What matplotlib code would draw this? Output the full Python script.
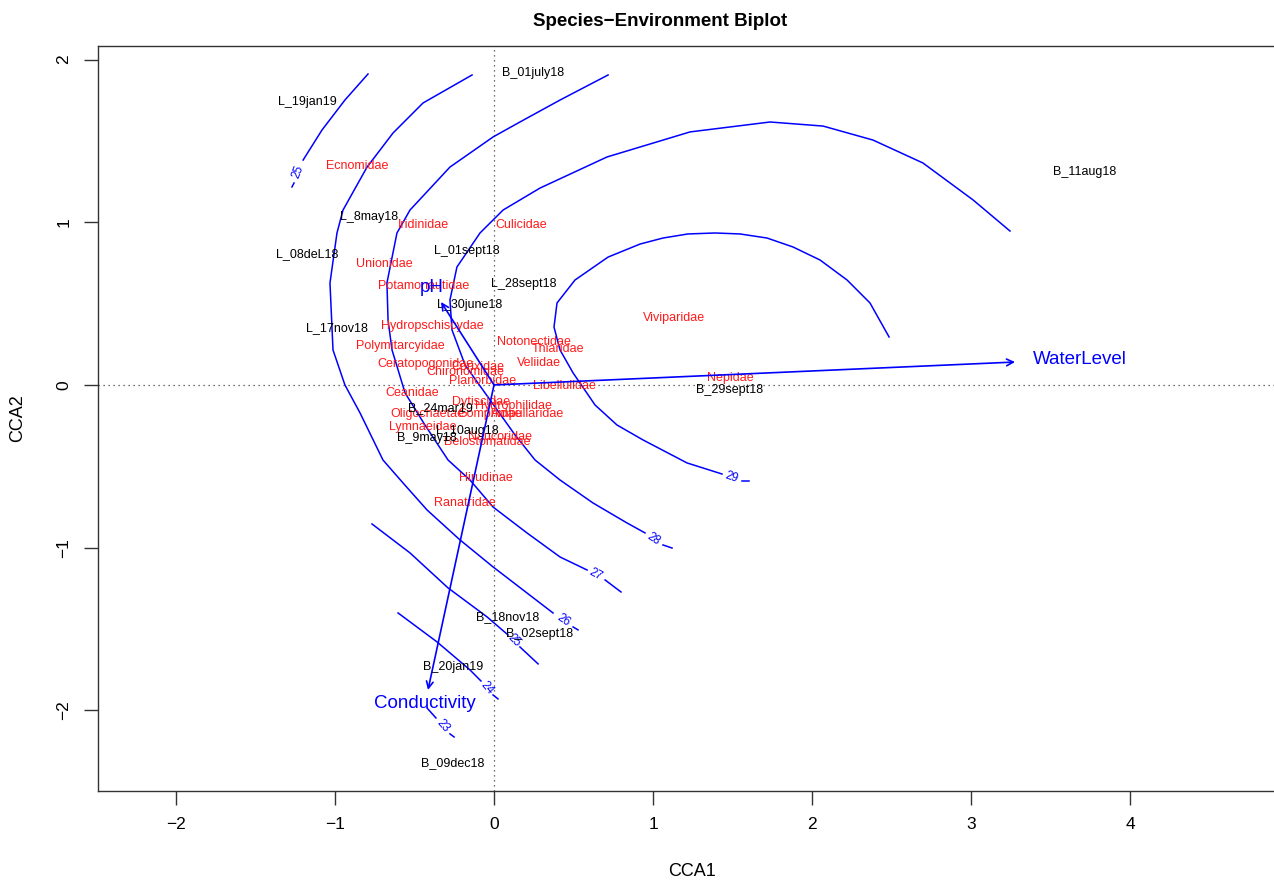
import math
import matplotlib
matplotlib.use("Agg")
import matplotlib.pyplot as plt

plt.rcParams["font.family"] = ["Liberation Sans", "DejaVu Sans"]

# site scores (CCA1, CCA2)
site_names = ["L_19jan19", "B_01july18", "B_11aug18", "L_8may18", "L_08deL18",
              "L_01sept18", "L_28sept18", "L_30june18", "L_17nov18", "B_24mar19",
              "L_10aug18", "B_9may18", "B_29sept18", "B_18nov18", "B_02sept18",
              "B_20jan19", "B_09dec18"]
site_x = [-1.175, 0.245, 3.715, -0.786, -1.175, -0.170, 0.189, -0.151, -0.987, -0.339,
          -0.170, -0.421, 1.483, 0.088, 0.289, -0.258, -0.258]
site_y = [1.739, 1.917, 1.309, 1.032, 0.805, 0.823, 0.621, 0.492, 0.350, -0.141,
          -0.283, -0.326, -0.031, -1.426, -1.530, -1.733, -2.323]

# species scores
species_names = ["Ecnomidae", "Iridinidae", "Culicidae", "Unionidae", "Potamonautidae",
                 "Hydropschiscydae", "Polymitarcyidae", "Notonectidae", "Thiaridae",
                 "Ceratopogonidae", "Corixidae", "Chironomidae", "Planorbidae", "Veliidae",
                 "Libellulidae", "Viviparidae", "Nepidae", "Ceanidae", "Dytiscidae",
                 "Hydrophilidae", "Oligochaetae", "Gomphidae", "Ampullaridae", "Lymnaeidae",
                 "Naucoridae", "Belostomatidae", "Hirudinae", "Ranatridae"]
species_x = [-0.861, -0.446, 0.170, -0.691, -0.440, -0.390, -0.591, 0.251, 0.402,
             -0.434, -0.100, -0.182, -0.075, 0.283, 0.440, 1.131, 1.483, -0.515, -0.080,
             0.120, -0.421, -0.025, 0.214, -0.446, 0.040, -0.040, -0.050, -0.182]
species_y = [1.346, 0.983, 0.983, 0.743, 0.608, 0.363, 0.240, 0.264, 0.221,
             0.129, 0.110, 0.080, 0.025, 0.135, -0.006, 0.412, 0.043, -0.049, -0.105,
             -0.130, -0.180, -0.180, -0.180, -0.258, -0.320, -0.350, -0.571, -0.725]

# environmental vectors
env_names = ["WaterLevel", "pH", "Conductivity"]
env_x = [3.275, -0.333, -0.415]
env_y = [0.141, 0.510, -1.874]
env_label_x = [3.683, -0.39, -0.434]
env_label_y = [0.154, 0.602, -1.96]

# fitted surface contours; last two points of each are the tail after the label
contour_levels = [25, 26, 27, 28, 29, 25, 24, 23]
contour_x = [
    [-0.792, -0.937, -1.081, -1.200, -1.257, -1.270],
    [-0.138, -0.446, -0.635, -0.798, -0.949, -0.987, -1.031, -1.012, -0.937, -0.842,
     -0.698, -0.572, -0.421, -0.214, -0.006, 0.207, 0.371, 0.497, 0.528],
    [0.717, 0.415, 0.163, -0.006, -0.277, -0.528, -0.610, -0.673, -0.666, -0.641,
     -0.559, -0.434, -0.289, -0.151, -0.006, 0.207, 0.415, 0.585, 0.698, 0.798],
    [3.243, 3.011, 2.696, 2.382, 2.068, 1.735, 1.232, 0.710, 0.289, 0.057, -0.088,
     -0.233, -0.277, -0.264, -0.182, -0.025, 0.132, 0.258, 0.415, 0.622, 0.836, 0.949,
     1.062, 1.119],
    [2.483, 2.363, 2.219, 2.049, 1.879, 1.716, 1.546, 1.389, 1.219, 1.062, 0.918,
     0.717, 0.509, 0.396, 0.377, 0.415, 0.497, 0.635, 0.773, 0.937, 1.213, 1.433,
     1.559, 1.603],
    [-0.767, -0.528, -0.289, -0.044, 0.088, 0.163, 0.277],
    [-0.603, -0.358, -0.151, -0.082, -0.006, 0.025],
    [-0.421, -0.365, -0.277, -0.251],
]
contour_y = [
    [1.911, 1.751, 1.567, 1.382, 1.241, 1.217],
    [1.905, 1.733, 1.548, 1.339, 1.075, 0.934, 0.627, 0.215, 0.000, -0.172,
     -0.461, -0.602, -0.768, -0.952, -1.118, -1.278, -1.401, -1.487, -1.505],
    [1.905, 1.751, 1.616, 1.524, 1.339, 1.075, 0.934, 0.627, 0.399, 0.215,
     -0.049, -0.246, -0.461, -0.584, -0.750, -0.909, -1.057, -1.137, -1.198, -1.272],
    [0.946, 1.137, 1.364, 1.505, 1.591, 1.616, 1.555, 1.401, 1.210, 1.075, 0.934,
     0.725, 0.522, 0.338, 0.123, -0.092, -0.307, -0.461, -0.584, -0.725, -0.848, -0.909,
     -0.983, -1.002],
    [0.295, 0.504, 0.645, 0.768, 0.848, 0.903, 0.928, 0.934, 0.928, 0.903, 0.866,
     0.786, 0.645, 0.504, 0.356, 0.215, 0.074, -0.123, -0.246, -0.338, -0.479, -0.547,
     -0.590, -0.590],
    [-0.854, -1.032, -1.247, -1.425, -1.536, -1.610, -1.714],
    [-1.401, -1.579, -1.751, -1.819, -1.905, -1.929],
    [-1.985, -2.046, -2.144, -2.163],
]

fig = plt.figure(figsize=(12.74, 8.82), dpi=100)
ax = fig.add_axes([98 / 1274, 1 - 791 / 882, 1189 / 1274, 745 / 882])
ax.set_xlim(-2.489, 4.984)
ax.set_ylim(-2.495, 2.083)

ax.axhline(0, color="#444444", lw=0.9, ls=(0, (1, 3)), zorder=1)
ax.axvline(0, color="#444444", lw=0.9, ls=(0, (1, 3)), zorder=1)

blue = "#0000ff"
for level, xs, ys in zip(contour_levels, contour_x, contour_y):
    ax.plot(xs[:-2], ys[:-2], color=blue, lw=1.1, zorder=2)
    ax.plot(xs[-2:], ys[-2:], color=blue, lw=1.1, zorder=2)
    # label sits in the gap, turned along the line
    p0 = ax.transData.transform((xs[-3], ys[-3]))
    p1 = ax.transData.transform((xs[-2], ys[-2]))
    ang = math.degrees(math.atan2(p1[1] - p0[1], p1[0] - p0[0]))
    if ang > 90:
        ang -= 180
    elif ang < -90:
        ang += 180
    ax.text((xs[-3] + xs[-2]) / 2, (ys[-3] + ys[-2]) / 2, str(level), color=blue,
            fontsize=8.5, rotation=ang, ha="center", va="center",
            rotation_mode="anchor", zorder=3)

for name, x, y in zip(species_names, species_x, species_y):
    ax.text(x, y, name, color="#ff1a1a", fontsize=9, ha="center", va="center", zorder=4)

for name, x, y in zip(site_names, site_x, site_y):
    ax.text(x, y, name, color="black", fontsize=9, ha="center", va="center", zorder=4)

for name, x, y, lx, ly in zip(env_names, env_x, env_y, env_label_x, env_label_y):
    ax.annotate("", xy=(x, y), xytext=(0, 0),
                arrowprops=dict(arrowstyle="->", color=blue, lw=1.2,
                                mutation_scale=12, shrinkA=0, shrinkB=0), zorder=5)
    ax.text(lx, ly, name, color=blue, fontsize=13.5, ha="center", va="center", zorder=5)

ax.set_xticks([-2, -1, 0, 1, 2, 3, 4])
ax.set_yticks([-2, -1, 0, 1, 2])
ax.set_xticklabels(["\u22122", "\u22121", "0", "1", "2", "3", "4"])
ax.set_yticklabels(["\u22122", "\u22121", "0", "1", "2"], rotation=90, va="center")
ax.tick_params(direction="out", length=10, width=1, labelsize=12.5, color="#333333", pad=9)
for sp in ax.spines.values():
    sp.set_color("#333333")
    sp.set_linewidth(1)

ax.set_xlabel("CCA1", fontsize=13, labelpad=22)
ax.set_ylabel("CCA2", fontsize=13, labelpad=22)
fig.text(660 / 1274, 1 - 22 / 882, "Species\u2212Environment Biplot", fontsize=13.5,
         fontweight="bold", ha="center", va="center")

fig.savefig("out.png", dpi=100)
